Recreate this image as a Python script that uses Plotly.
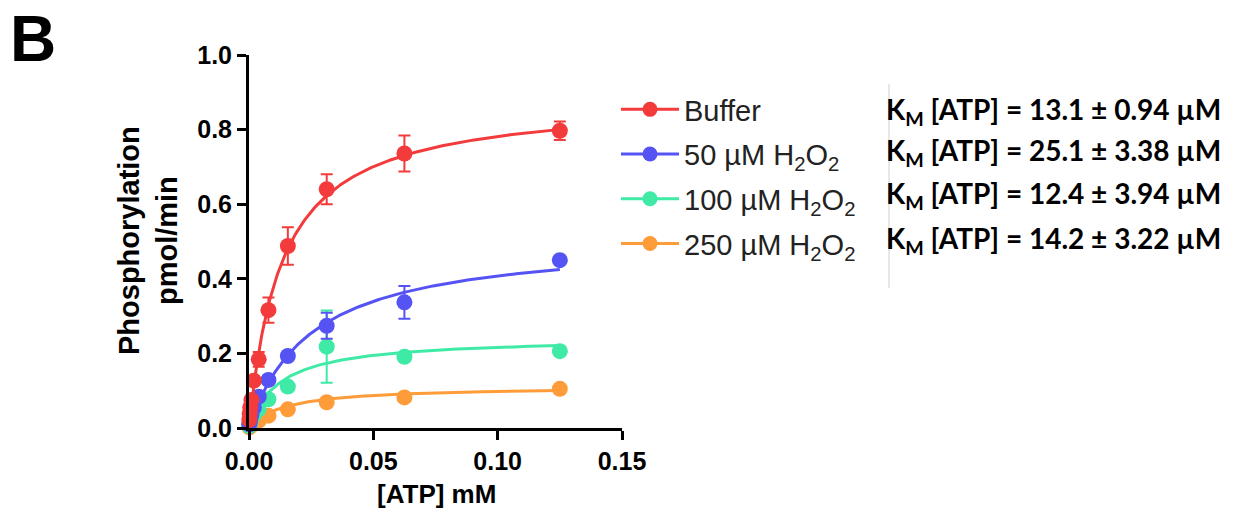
import numpy as np
import plotly.graph_objects as go

# ---------------- data ----------------
atp_mM = [0.125, 0.0625, 0.03125, 0.015625, 0.0078125, 0.00390625,
          0.001953, 0.000977, 0.000488, 0.000244, 0.000122]

series_names = ["Buffer", "50 µM H<sub>2</sub>O<sub>2</sub>",
                "100 µM H<sub>2</sub>O<sub>2</sub>", "250 µM H<sub>2</sub>O<sub>2</sub>"]

buffer_v = [0.797, 0.736, 0.640, 0.488, 0.316, 0.184, 0.127, 0.075, 0.055, 0.038, 0.022]
buffer_err = [0.025, 0.048, 0.040, 0.050, 0.034, 0.020, 0.008, 0.0, 0.0, 0.0, 0.0]

h50_v = [0.450, 0.337, 0.274, 0.193, 0.129, 0.084, 0.055, 0.035, 0.022, 0.015, 0.010]
h50_err = [0.0, 0.044, 0.035, 0.008, 0.008, 0.0, 0.0, 0.0, 0.0, 0.0, 0.0]

h100_v = [0.206, 0.191, 0.218, 0.111, 0.077, 0.050, 0.035, 0.025, 0.015, 0.010, 0.005]
h100_err = [0.0, 0.0, 0.097, 0.0, 0.0, 0.0, 0.0, 0.0, 0.0, 0.0, 0.0]

h250_v = [0.105, 0.082, 0.069, 0.050, 0.033, 0.020, 0.012, 0.008, 0.005, 0.003, 0.002]
h250_err = [0.0] * 11

# Michaelis-Menten fit parameters (Km from labels, in mM; Vmax estimated)
km_mM = [0.0131, 0.0251, 0.0124, 0.0142]
vmax = [0.884, 0.510, 0.243, 0.112]

km_labels = [
    "K<sub>M</sub> [ATP] = 13.1 ± 0.94 µM",
    "K<sub>M</sub> [ATP] = 25.1 ± 3.38 µM",
    "K<sub>M</sub> [ATP] = 12.4 ± 3.94 µM",
    "K<sub>M</sub> [ATP] = 14.2 ± 3.22 µM",
]

colors = ["#F43B3B", "#5553F4", "#3FEAA6", "#FF9C3A"]
values = [buffer_v, h50_v, h100_v, h250_v]
errors = [buffer_err, h50_err, h100_err, h250_err]

x_tick_vals = [0.0, 0.05, 0.10, 0.15]
y_tick_vals = [0.0, 0.2, 0.4, 0.6, 0.8, 1.0]

# ---------------- figure ----------------
W, H = 1233, 518
X0, X1, Y1, Y0 = 249, 622, 55, 428
L, R, T, B = X0, W - X1, Y1, H - Y0
pw, ph = X1 - X0, Y0 - Y1


def px(xp):
    return (xp - X0) / pw


def py(yp):
    return (Y0 - yp) / ph


fig = go.Figure()

x_fit = np.linspace(0, max(atp_mM), 300)
order = [3, 2, 1, 0]
for i in order:
    y_fit = vmax[i] * x_fit / (km_mM[i] + x_fit)
    fig.add_trace(go.Scatter(
        x=x_fit, y=y_fit, mode="lines",
        line=dict(color=colors[i], width=3),
        showlegend=False, hoverinfo="skip", cliponaxis=False))
    fig.add_trace(go.Scatter(
        x=atp_mM, y=values[i], mode="markers",
        marker=dict(color=colors[i], size=16),
        error_y=dict(type="data", array=errors[i], color=colors[i],
                     thickness=2, width=6),
        showlegend=False, cliponaxis=False))

# legend entries (line + marker symbols)
for i in range(4):
    fig.add_trace(go.Scatter(
        x=[None], y=[None], mode="lines+markers", name=series_names[i],
        line=dict(color=colors[i], width=3),
        marker=dict(color=colors[i], size=15),
        legendgroup="g%d" % i, legendrank=i + 1))

font_main = "Liberation Sans, Arial, sans-serif"

fig.update_layout(
    width=W, height=H,
    margin=dict(l=L, r=R, t=T, b=B),
    paper_bgcolor="white", plot_bgcolor="white",
    showlegend=True,
    legend=dict(
        x=px(616), y=py(84), xanchor="left", yanchor="top",
        font=dict(family=font_main, size=29, color="#222"),
        bgcolor="rgba(0,0,0,0)", itemwidth=58, tracegroupgap=4,
    ),
    xaxis=dict(
        range=[0, 0.15], tickvals=x_tick_vals, tickformat=".2f",
        showline=True, linecolor="black", linewidth=3,
        ticks="outside", ticklen=9, tickwidth=3, tickcolor="black",
        showgrid=False, zeroline=False,
        tickfont=dict(family=font_main, size=25, color="black", weight="bold"),
    ),
    yaxis=dict(
        range=[0, 1.0], tickvals=y_tick_vals, tickformat=".1f",
        showline=True, linecolor="black", linewidth=3,
        ticks="outside", ticklen=9, tickwidth=3, tickcolor="black",
        showgrid=False, zeroline=False,
        tickfont=dict(family=font_main, size=25, color="black", weight="bold"),
    ),
)

annotations = [
    dict(text="<b>B</b>", x=px(8), y=py(1), xanchor="left", yanchor="top",
         font=dict(family=font_main, size=64, color="black")),
    dict(text="<b>Phosphorylation<br>pmol/min</b>", x=px(148), y=py(241),
         textangle=-90, xanchor="center", yanchor="middle",
         font=dict(family=font_main, size=29, color="black")),
    dict(text="<b>[ATP] mM</b>", x=px(436), y=py(494),
         xanchor="center", yanchor="middle",
         font=dict(family=font_main, size=26, color="black")),
]
km_y = [111, 152, 195, 240]
for lab, yy in zip(km_labels, km_y):
    annotations.append(dict(
        text="<b>" + lab + "</b>", x=px(884), y=py(yy),
        xanchor="left", yanchor="middle",
        font=dict(family="Lato, Open Sans, sans-serif", size=28, color="black")))
for a in annotations:
    a.update(xref="paper", yref="paper", showarrow=False)
fig.update_layout(annotations=annotations)

fig.add_shape(type="line", xref="paper", yref="paper",
              x0=px(889), x1=px(889), y0=py(84), y1=py(288),
              line=dict(color="#d0d0d0", width=1))

fig.write_html("out.html",
               config={"displayModeBar": False},
               post_script="document.body.style.margin='0px';")
